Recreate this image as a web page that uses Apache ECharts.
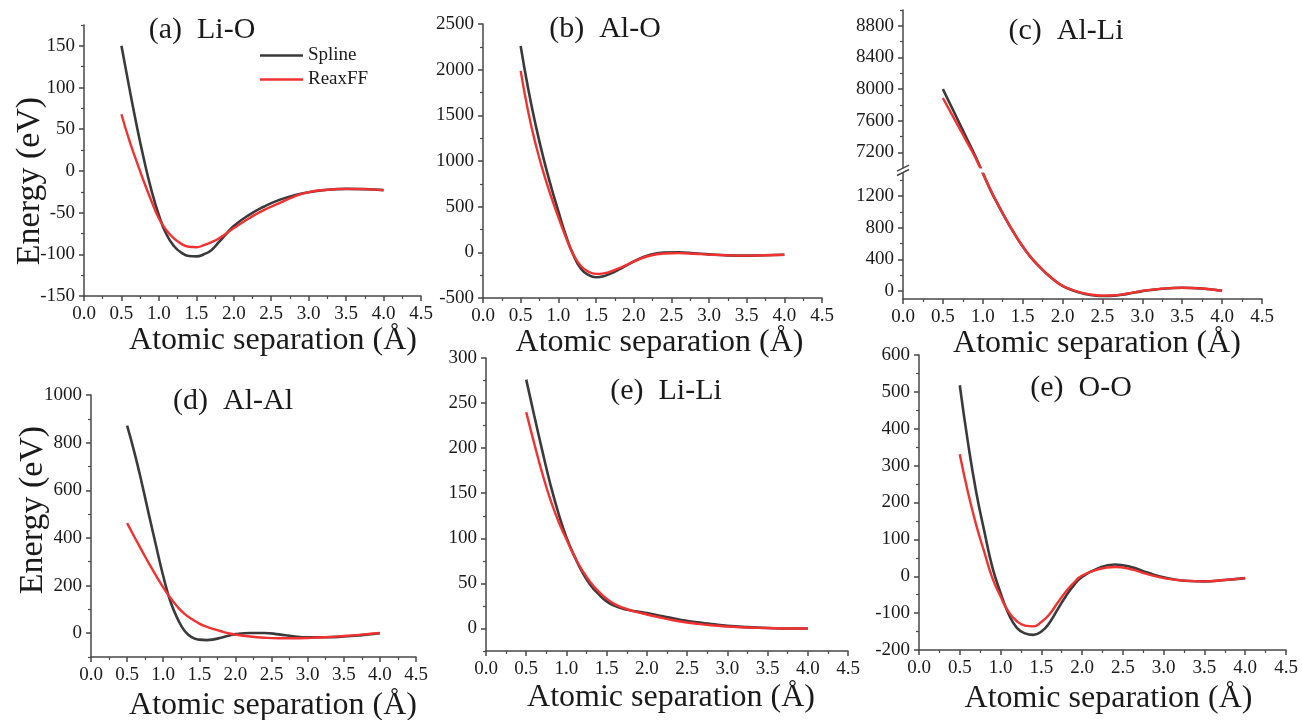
<!DOCTYPE html>
<html>
<head>
<meta charset="utf-8">
<title>Pair potentials: Spline vs ReaxFF</title>
<script src="https://cdn.jsdelivr.net/npm/echarts@6.0.0/dist/echarts.min.js"></script>
<style>
  html, body { margin: 0; padding: 0; background: #fff; }
  #chart { width: 1302px; height: 720px; }
</style>
</head>
<body>
<div id="chart"></div>
<script>
// atomic separation (Å) where the curves were read
const sepX = [0.5, 0.6, 0.7, 0.8, 0.9, 1.0, 1.1, 1.2, 1.3, 1.4, 1.5, 1.6, 1.7, 1.8, 1.9, 2.0,
  2.2, 2.4, 2.6, 2.8, 3.0, 3.25, 3.5, 3.75, 4.0]
// Al-Li jumps over the axis break, so it skips 1.0
const alLiX = [0.5, 0.6, 0.7, 0.8, 0.9, 1.1, 1.2, 1.3, 1.4, 1.5, 1.6, 1.7, 1.8, 1.9, 2.0, 2.1,
  2.2, 2.3, 2.4, 2.5, 2.6, 2.8, 3.0, 3.25, 3.5, 3.75, 4.0]

// energies (eV)
const liOSpline = [150, 102, 56, 14, -23, -53, -76, -90, -98, -102, -102.5, -100, -95, -85.5, -75.5, -66,
  -53, -43, -35, -29.5, -25.5, -22.5, -21.5, -21.8, -23]
const liOReax = [68, 38, 12, -13, -36, -57, -71, -81, -87.5, -91, -91.5, -89, -85.5, -81, -75, -68.5,
  -57, -47, -39, -31, -25.5, -22.5, -21.5, -21.8, -23]

const alOSpline = [2260, 1790, 1390, 1040, 730, 450, 185, -30, -180, -248, -273, -262, -230, -190, -145, -100,
  -32, -3, 0, -10, -22, -33, -36, -32, -26]
const alOReax = [1987, 1540, 1180, 880, 620, 385, 165, -25, -150, -212, -236, -230, -208, -176, -140, -102,
  -40, -13, -9, -15, -25, -33, -36, -32, -26]

const alLiSpline = [8000, 7792, 7583, 7375, 7166, 1270, 1075, 890, 720, 565, 430, 320, 220, 135, 65, 20,
  -15, -40, -56, -63, -61, -38, 0, 30, 42, 32, 5]
const alLiReax = [7887, 7702, 7518, 7333, 7149, 1275, 1080, 893, 722, 567, 432, 322, 222, 137, 68, 24,
  -10, -34, -50, -57, -55, -34, 3, 31, 42, 32, 5]

const alAlSpline = [871, 760, 635, 500, 368, 240, 133, 60, 8, -18, -27, -29, -26, -19, -11, -4,
  1, 1, -5, -13, -17, -17, -14, -8, 0]
const alAlReax = [462, 405, 349, 294, 242, 192, 148, 110, 80, 58, 40, 27, 17, 8, 0, -6,
  -14, -19, -21, -21, -20, -17, -12, -6, 1]

const liLiSpline = [276, 236, 197, 160, 128, 101, 80, 62, 48, 38, 30, 25, 22, 20, 18.5, 17,
  13.5, 10, 7, 5, 3, 1.5, 0.5, 0, 0]
const liLiReax = [240, 205, 172, 143, 119, 99, 80, 64, 51, 41, 33, 27, 23, 20, 17.5, 15.5,
  11.5, 8, 5.5, 3.5, 2.2, 1, 0.5, 0, 0]

const ooSpline = [518, 363, 230, 123, 24, -45, -103, -140, -155, -159, -150, -126, -90, -54, -24, -2,
  22, 32, 25, 10, -3, -12, -14, -10, -5]
const ooReax = [331, 228, 140, 66, -5, -55, -97, -122, -134, -136, -124, -103, -72, -42, -17, 2,
  19, 25, 19, 6, -5, -12, -14, -10, -5]

// y tick labels (major) and minor tick positions
const liOTicks = [-150, -100, -50, 0, 50, 100, 150]
const liOMinor = [-125, -75, -25, 25, 75, 125, 175]
const alOTicks = [-500, 0, 500, 1000, 1500, 2000, 2500]
const alOMinor = [-250, 250, 750, 1250, 1750, 2250]
const alLiTicks = [0, 400, 800, 1200, 7200, 7600, 8000, 8400, 8800]
const alLiMinor = [200, 600, 1000, 1400, 7400, 7800, 8200, 8600, 9000]
const alAlTicks = [0, 200, 400, 600, 800, 1000]
const alAlMinor = [-100, 100, 300, 500, 700, 900]
const liLiTicks = [0, 50, 100, 150, 200, 250, 300]
const liLiMinor = [-25, 25, 75, 125, 175, 225, 275]
const ooTicks = [-200, -100, 0, 100, 200, 300, 400, 500, 600]
const ooMinor = [-150, -50, 50, 150, 250, 350, 450, 550]

const FONT = '"Liberation Serif", "Times New Roman", serif'
const AXIS_COLOR = '#474747'
const TEXT_COLOR = '#1a1a1a'
const SPLINE_COLOR = '#3a3a3a'
const REAX_COLOR = '#f23131'

const panels = [
  {
    title: '(a)  Li-O', titleAt: [202, 30],
    grid: { left: 84, top: 25, width: 337, height: 271 },
    yMin: -150, yMax: 175, ticks: liOTicks, minor: liOMinor,
    xs: sepX, spline: liOSpline, reax: liOReax,
    xNameGap: 24, xNameShift: 41,
    yName: { gap: 37, padding: [0, 41, 0, 0] },
  },
  {
    title: '(b)  Al-O', titleAt: [605, 29],
    grid: { left: 483, top: 24, width: 339, height: 274 },
    yMin: -500, yMax: 2500, ticks: alOTicks, minor: alOMinor,
    xs: sepX, spline: alOSpline, reax: alOReax,
    xNameGap: 23, xNameShift: 14,
  },
  {
    title: '(c)  Al-Li', titleAt: [1066, 31],
    grid: { left: 903, top: 10, width: 359, height: 289 },
    yMin: -100, yMax: 9000, ticks: alLiTicks, minor: alLiMinor,
    breaks: [{ start: 1500, end: 7000, gap: '1.5%' }],
    xs: alLiX, spline: alLiSpline, reax: alLiReax,
    xNameGap: 25, xNameShift: 29,
  },
  {
    title: '(d)  Al-Al', titleAt: [233, 401],
    grid: { left: 91, top: 395, width: 325, height: 262 },
    yMin: -100, yMax: 1000, ticks: alAlTicks, minor: alAlMinor,
    xs: sepX, spline: alAlSpline, reax: alAlReax,
    xNameGap: 33, xNameShift: 39,
    yName: { gap: 41, padding: [0, 0, 0, 32] },
  },
  {
    title: '(e)  Li-Li', titleAt: [666, 391],
    grid: { left: 486, top: 358, width: 362, height: 293 },
    yMin: -25, yMax: 300, ticks: liLiTicks, minor: liLiMinor,
    xs: sepX, spline: liLiSpline, reax: liLiReax,
    xNameGap: 31, xNameShift: 8,
  },
  {
    title: '(e)  O-O', titleAt: [1081, 388],
    grid: { left: 919, top: 355, width: 367, height: 295 },
    yMin: -200, yMax: 600, ticks: ooTicks, minor: ooMinor,
    xs: sepX, spline: ooSpline, reax: ooReax,
    xNameGap: 33, xNameShift: 12,
  },
]

function pairs(xs, ys) {
  return xs.map((x, i) => [x, ys[i]])
}

const labelStyle = { fontFamily: FONT, fontSize: 19, color: TEXT_COLOR }
const lineStyle = { color: AXIS_COLOR, width: 1.5 }

const option = {
  animation: false,
  backgroundColor: '#fff',
  grid: [],
  xAxis: [],
  yAxis: [],
  series: [],
  graphic: [],
  legend: {
    data: ['Spline', 'ReaxFF'],
    icon: 'rect',
    orient: 'vertical',
    left: 260,
    top: 46,
    padding: 0,
    itemWidth: 43,
    itemHeight: 2.6,
    itemGap: 5,
    selectedMode: false,
    textStyle: { fontFamily: FONT, fontSize: 19, color: TEXT_COLOR },
  },
}

panels.forEach((p, i) => {
  option.grid.push({ ...p.grid, containLabel: false, outerBoundsMode: 'none' })

  option.xAxis.push({
    type: 'value',
    gridIndex: i,
    min: 0,
    max: 4.5,
    interval: 0.5,
    name: 'Atomic separation (Å)',
    nameLocation: 'middle',
    nameGap: p.xNameGap,
    nameTextStyle: { fontFamily: FONT, fontSize: 32, color: TEXT_COLOR, padding: [0, 0, 0, p.xNameShift] },
    axisLine: { onZero: false, lineStyle },
    axisTick: { length: 5, lineStyle },
    minorTick: { show: true, splitNumber: 2, length: 3, lineStyle: { color: AXIS_COLOR, width: 1.2 } },
    axisLabel: { ...labelStyle, margin: 9, formatter: (v) => v.toFixed(1) },
    splitLine: { show: false },
  })

  const yBase = {
    type: 'value',
    gridIndex: i,
    position: 'left',
    min: p.yMin,
    max: p.yMax,
    splitLine: { show: false },
  }
  if (p.breaks) yBase.breaks = p.breaks

  const yMain = {
    ...yBase,
    axisLine: { show: true, onZero: false, lineStyle },
    axisTick: { show: true, length: 5, customValues: p.ticks, lineStyle },
    axisLabel: { ...labelStyle, margin: 9, customValues: p.ticks, formatter: (v) => String(v) },
  }
  if (p.breaks) {
    yMain.breakArea = {
      show: true,
      expandOnClick: false,
      zigzagAmplitude: 0,
      zigzagZ: 100,
      itemStyle: { color: '#fff', borderWidth: 0, borderColor: 'rgba(0,0,0,0)', opacity: 1 },
    }
  }
  if (p.yName) {
    yMain.name = 'Energy (eV)'
    yMain.nameLocation = 'middle'
    yMain.nameGap = p.yName.gap
    yMain.nameMoveOverlap = false
    yMain.nameTextStyle = { fontFamily: FONT, fontSize: 34, color: TEXT_COLOR, padding: p.yName.padding }
  }
  option.yAxis.push(yMain)

  // second axis on the same spot, only for the short minor ticks
  const yMinor = {
    ...yBase,
    axisLine: { show: false, onZero: false },
    axisLabel: { show: false },
    axisTick: { show: true, length: 3, customValues: p.minor, lineStyle: { color: AXIS_COLOR, width: 1.2 } },
  }
  if (p.breaks) yMinor.breakArea = { show: false }
  option.yAxis.push(yMinor)

  option.series.push(
    {
      type: 'line',
      name: 'Spline',
      xAxisIndex: i,
      yAxisIndex: 2 * i,
      data: pairs(p.xs, p.spline),
      smooth: true,
      symbol: 'none',
      lineStyle: { color: SPLINE_COLOR, width: 2.6 },
      itemStyle: { color: SPLINE_COLOR },
      z: 2,
    },
    {
      type: 'line',
      name: 'ReaxFF',
      xAxisIndex: i,
      yAxisIndex: 2 * i,
      data: pairs(p.xs, p.reax),
      smooth: true,
      symbol: 'none',
      lineStyle: { color: REAX_COLOR, width: 2.4 },
      itemStyle: { color: REAX_COLOR },
      z: 3,
    },
  )

  option.graphic.push({
    type: 'text',
    id: 'title' + i,
    x: p.titleAt[0],
    y: p.titleAt[1],
    style: {
      text: p.title,
      font: `30px ${FONT}`,
      fill: TEXT_COLOR,
      textAlign: 'center',
      textVerticalAlign: 'middle',
    },
  })
})

const chart = echarts.init(document.getElementById('chart'))
chart.setOption(option)

// "//" marks where the Al-Li axis is broken
const brk = panels[2].breaks[0]
const axisX = chart.convertToPixel({ xAxisIndex: 2 }, 0)
const breakMarks = [brk.start, brk.end].map((v, k) => {
  const y = chart.convertToPixel({ yAxisIndex: 4 }, v)
  return {
    type: 'line',
    id: 'break' + k,
    z: 200,
    shape: { x1: axisX - 6, y1: y + 3, x2: axisX + 6, y2: y - 3 },
    style: { stroke: AXIS_COLOR, lineWidth: 1.5 },
  }
})
chart.setOption({ graphic: breakMarks })

window.addEventListener('resize', () => chart.resize())
</script>
</body>
</html>
